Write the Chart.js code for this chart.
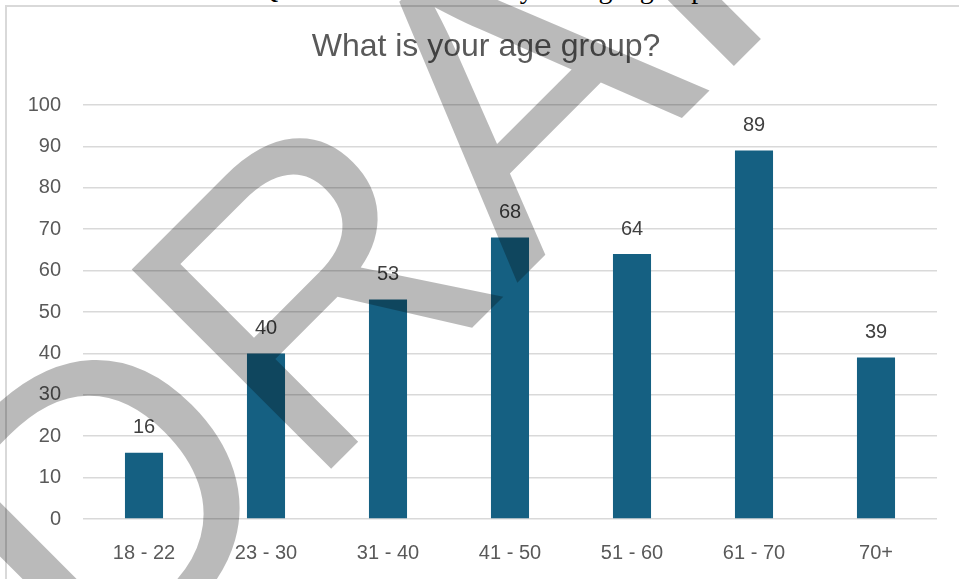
<!DOCTYPE html>
<html>
<head>
<meta charset="utf-8">
<script src="https://cdn.jsdelivr.net/npm/chart.js@4.4.1/dist/chart.umd.min.js"></script>
<style>
  html, body { margin: 0; padding: 0; background: #fff; overflow: hidden; }
  #wrap { position: relative; width: 959px; height: 579px; overflow: hidden; background: #fff; }
  #doc { position: absolute; left: 258px; top: -27px; font: 28px 'Liberation Serif', serif; word-spacing: 8px; color: #000; white-space: nowrap; }
  #frame { position: absolute; left: 5px; top: 5px; width: 1100px; height: 700px; border: 2px solid #d9d9d9; box-sizing: border-box; }
  canvas { position: absolute; left: 0; top: 0; }
</style>
</head>
<body>
<div id="wrap">
  <div id="doc">Question 1: What is your age group?</div>
  <div id="frame"></div>
  <canvas id="chart" width="959" height="579"></canvas>
</div>
<script>
// Survey answers per age band
const categories = ['18 - 22', '23 - 30', '31 - 40', '41 - 50', '51 - 60', '61 - 70', '70+'];
const respondents = [16, 40, 53, 68, 64, 89, 39];
const yMin = 0;
const yMax = 100;
const yStep = 10;
const chartTitle = 'What is your age group?';
const watermarkText = 'DRAFT';

const FONT = "'Liberation Sans', Arial, sans-serif";

// Title, value labels and the diagonal watermark
const decorPlugin = {
  id: 'decor',
  afterDatasetsDraw(chart) {
    const ctx = chart.ctx;
    ctx.save();
    // title
    ctx.font = `32px ${FONT}`;
    ctx.fillStyle = '#595959';
    ctx.textAlign = 'center';
    ctx.textBaseline = 'alphabetic';
    ctx.fillText(chartTitle, 486, 56);
    // value labels above the bars
    const meta = chart.getDatasetMeta(0);
    ctx.font = `20px ${FONT}`;
    ctx.fillStyle = '#404040';
    ctx.textBaseline = 'middle';
    meta.data.forEach((bar, i) => {
      ctx.fillText(String(respondents[i]), bar.x, bar.y - 25);
    });
    ctx.restore();
  },
  afterDraw(chart) {
    const ctx = chart.ctx;
    ctx.save();
    ctx.translate(98, 702);
    ctx.rotate(-Math.PI / 4);
    ctx.font = `410px ${FONT}`;
    ctx.fillStyle = 'rgba(0,0,0,0.27)';
    ctx.textAlign = 'left';
    ctx.textBaseline = 'alphabetic';
    ctx.fillText(watermarkText, 0, 0);
    ctx.restore();
  }
};

new Chart(document.getElementById('chart'), {
  type: 'bar',
  data: {
    labels: categories,
    datasets: [{
      data: respondents,
      backgroundColor: '#156082',
      borderWidth: 0,
      categoryPercentage: 1,
      barPercentage: 0.312
    }]
  },
  options: {
    responsive: false,
    animation: false,
    layout: { padding: { top: 105, right: 22, bottom: 0, left: 0 } },
    plugins: {
      legend: { display: false },
      tooltip: { enabled: false },
      title: { display: false }
    },
    scales: {
      x: {
        grid: { display: false, drawTicks: false },
        border: { display: false },
        ticks: { font: { family: FONT, size: 20 }, color: '#595959', padding: 22 },
        afterFit(scale) { scale.height = 60; }
      },
      y: {
        min: yMin,
        max: yMax,
        ticks: { stepSize: yStep, font: { family: FONT, size: 20 }, color: '#595959', padding: 22 },
        grid: { color: '#d9d9d9', lineWidth: 1.5, drawTicks: false },
        border: { display: false },
        afterFit(scale) { scale.width = 83; }
      }
    }
  },
  plugins: [decorPlugin]
});
</script>
</body>
</html>
